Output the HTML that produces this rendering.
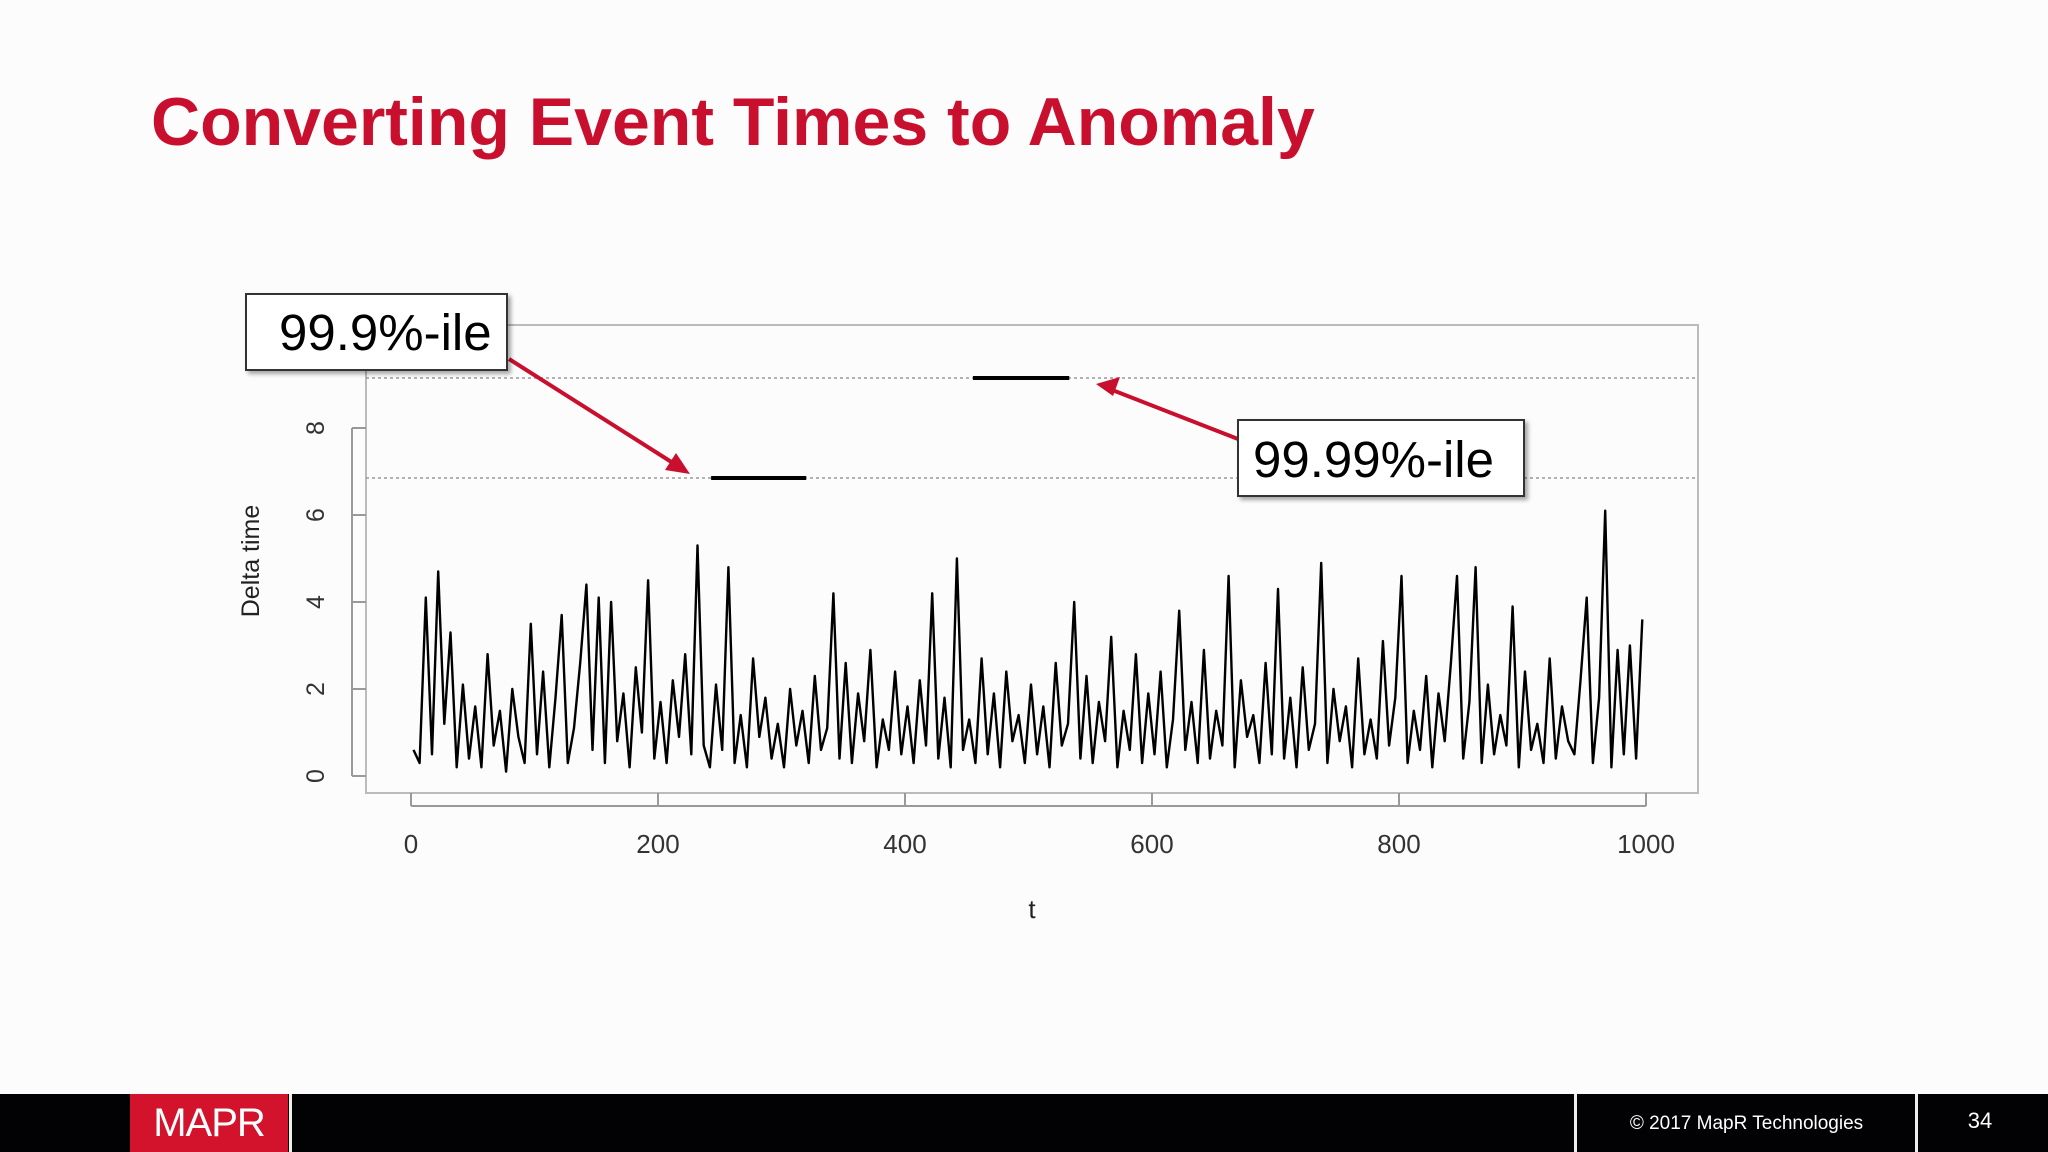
<!DOCTYPE html>
<html><head><meta charset="utf-8">
<style>
html,body{margin:0;padding:0;}
body{width:2048px;height:1152px;position:relative;background:#fdfcfd;overflow:hidden;font-family:"Liberation Sans",Arial,sans-serif;}
#title{position:absolute;left:151px;top:83px;font-size:68px;font-weight:bold;color:#c8102e;white-space:nowrap;}
#footer{position:absolute;left:0;top:1094px;width:2048px;height:58px;background:#020104;}
</style></head>
<body>
<div id="title">Converting Event Times to Anomaly</div>
<svg id="chart" width="2048" height="1094" style="position:absolute;left:0;top:0;font-family:'Liberation Sans',Arial,sans-serif">
<rect x="366" y="325" width="1332" height="468" fill="none" stroke="#bbb" stroke-width="2"/>
<g id="yaxis"></g>
<g id="xaxis"></g>
<text x="0" y="0" transform="translate(259,561) rotate(-90)" text-anchor="middle" font-size="25" fill="#222">Delta time</text>
<text x="1032" y="918" text-anchor="middle" font-size="26" fill="#222">t</text>
<g id="lines"></g>
<path id="series" fill="none" stroke="#000" stroke-width="2.4" stroke-linejoin="round"/>
<g>
<line x1="509" y1="359" x2="684" y2="470" stroke="#c8102e" stroke-width="4"/>
<path d="M690,474 L665,470 L676,453 Z" fill="#c8102e"/>
</g>
<g>
<line x1="1238" y1="439" x2="1102" y2="386" stroke="#c8102e" stroke-width="4"/>
<path d="M1096,384 L1120,377 L1113,396 Z" fill="#c8102e"/>
</g>
<g>
<rect x="246" y="294" width="261" height="76" fill="#fff" stroke="#333" stroke-width="2" style="filter:drop-shadow(3px 3px 2px rgba(0,0,0,0.35))"/>
<text x="279" y="350" font-size="51" fill="#000">99.9%-ile</text>
</g>
<g>
<rect x="1238" y="420" width="286" height="76" fill="#fff" stroke="#333" stroke-width="2" style="filter:drop-shadow(3px 3px 2px rgba(0,0,0,0.35))"/>
<text x="1253" y="477" font-size="51" fill="#000">99.99%-ile</text>
</g>
</svg>
<div id="footer">
<div style="position:absolute;left:130px;top:0;width:158px;height:58px;background:#d3122b;color:#fff;font-size:40px;letter-spacing:-1px;text-align:center;line-height:58px;">MAPR</div>
<div style="position:absolute;left:289px;top:0;width:3px;height:58px;background:#eee"></div>
<div style="position:absolute;left:1574px;top:0;width:3px;height:58px;background:#eee"></div>
<div style="position:absolute;left:1577px;width:339px;top:19px;text-align:center;color:#fff;font-size:19px;">© 2017 MapR Technologies</div>
<div style="position:absolute;left:1915px;top:0;width:3px;height:58px;background:#eee"></div>
<div style="position:absolute;left:1918px;width:124px;top:14px;text-align:center;color:#fff;font-size:22px;">34</div>
</div>
<script>
const yTicks=[0,2,4,6,8];
const xTicks=[0,200,400,600,800,1000];
const quantileLevels=[6.85,9.15];
const quantileNames=['p999','p9999'];
const segStarts=[243,455];
const segEnds=[320,533];
const tStep=5;
const values=[0.6,0.3,4.1,0.5,4.7,1.2,3.3,0.2,2.1,0.4,1.6,0.2,2.8,0.7,1.5,0.1,2.0,0.9,0.3,3.5,
0.5,2.4,0.2,1.8,3.7,0.3,1.1,2.6,4.4,0.6,4.1,0.3,4.0,0.8,1.9,0.2,2.5,1.0,4.5,0.4,
1.7,0.3,2.2,0.9,2.8,0.5,5.3,0.7,0.2,2.1,0.6,4.8,0.3,1.4,0.2,2.7,0.9,1.8,0.4,1.2,
0.2,2.0,0.7,1.5,0.3,2.3,0.6,1.1,4.2,0.4,2.6,0.3,1.9,0.8,2.9,0.2,1.3,0.6,2.4,0.5,
1.6,0.3,2.2,0.7,4.2,0.4,1.8,0.2,5.0,0.6,1.3,0.3,2.7,0.5,1.9,0.2,2.4,0.8,1.4,0.3,
2.1,0.5,1.6,0.2,2.6,0.7,1.2,4.0,0.4,2.3,0.3,1.7,0.8,3.2,0.2,1.5,0.6,2.8,0.3,1.9,
0.5,2.4,0.2,1.3,3.8,0.6,1.7,0.3,2.9,0.4,1.5,0.7,4.6,0.2,2.2,0.9,1.4,0.3,2.6,0.5,
4.3,0.4,1.8,0.2,2.5,0.6,1.2,4.9,0.3,2.0,0.8,1.6,0.2,2.7,0.5,1.3,0.4,3.1,0.7,1.8,
4.6,0.3,1.5,0.6,2.3,0.2,1.9,0.8,2.6,4.6,0.4,1.7,4.8,0.3,2.1,0.5,1.4,0.7,3.9,0.2,
2.4,0.6,1.2,0.3,2.7,0.4,1.6,0.8,0.5,2.2,4.1,0.3,1.8,6.1,0.2,2.9,0.5,3.0,0.4,3.6];
const NS='http://www.w3.org/2000/svg';
function sx(t){return 411+(t/1000)*1235;}
function sy(v){return 776-v*43.5;}
function mk(tag,attrs,parent){const e=document.createElementNS(NS,tag);for(const k in attrs)e.setAttribute(k,attrs[k]);parent.appendChild(e);return e;}
const ya=document.getElementById('yaxis'),xa=document.getElementById('xaxis'),lg=document.getElementById('lines');
mk('line',{x1:352,x2:352,y1:sy(yTicks[0]),y2:sy(yTicks[yTicks.length-1]),stroke:'#999','stroke-width':2},ya);
yTicks.forEach(v=>{
 mk('line',{x1:352,x2:366,y1:sy(v),y2:sy(v),stroke:'#999','stroke-width':2},ya);
 const t=mk('text',{transform:`translate(324,${sy(v)}) rotate(-90)`,'text-anchor':'middle','font-size':25,fill:'#333'},ya);
 
 
 t.textContent=v;
});
mk('line',{x1:sx(xTicks[0]),x2:sx(xTicks[xTicks.length-1]),y1:806,y2:806,stroke:'#999','stroke-width':2},xa);
xTicks.forEach(v=>{
 mk('line',{x1:sx(v),x2:sx(v),y1:793,y2:806,stroke:'#999','stroke-width':2},xa);
 const t=mk('text',{x:sx(v),y:853,'text-anchor':'middle','font-size':26,fill:'#333'},xa);
 
 
 t.textContent=v;
});
quantileLevels.forEach((q,i)=>{
 const l=mk('line',{x1:366,x2:1698,y1:sy(q),y2:sy(q),stroke:'#999','stroke-width':1.5,'stroke-dasharray':'3,3'},lg);
 
 
 const s=mk('line',{x1:sx(segStarts[i]),x2:sx(segEnds[i]),y1:sy(q),y2:sy(q),stroke:'#000','stroke-width':4},lg);
 
 
});
document.getElementById('series').setAttribute('d',values.map((v,i)=>(i?'L':'M')+sx(i*tStep+2).toFixed(1)+','+sy(v).toFixed(1)).join(' '));
</script>
</body></html>
